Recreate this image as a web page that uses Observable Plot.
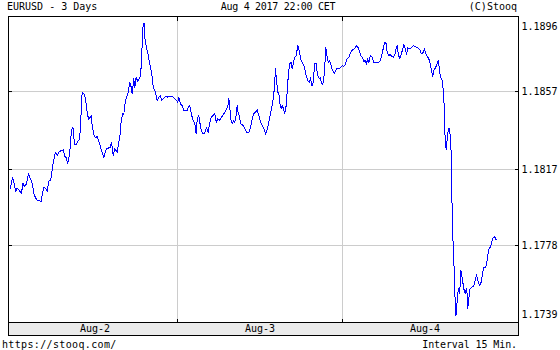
<!DOCTYPE html>
<html>
<head>
<meta charset="utf-8">
<script src="https://cdn.jsdelivr.net/npm/d3@7"></script>
<script src="https://cdn.jsdelivr.net/npm/@observablehq/plot@0.6"></script>
<style>
  html, body { margin: 0; padding: 0; background: #fff; }
  #wrap { position: relative; width: 560px; height: 350px; overflow: hidden; font-family: "DejaVu Sans Mono", monospace; font-size: 10px; color: #000; }
  .lbl { position: absolute; white-space: pre; line-height: 12px; }
  #band { position: absolute; left: 8px; top: 322px; width: 511px; height: 14px; box-sizing: border-box; border: 1px solid #000; background: #ebebeb; }
  #plot { position: absolute; left: 0; top: 15px; }
</style>
</head>
<body>
<div id="wrap">
  <div id="band"></div>
  <div id="plot"></div>
  <div class="lbl" style="left:7px;top:1px">EURUSD - 3 Days</div>
  <div class="lbl" style="left:0;width:556px;text-align:center;top:1px;letter-spacing:-0.3px">Aug 4 2017 22:00 CET</div>
  <div class="lbl" style="right:43px;top:1px">(C)Stooq</div>
  <div class="lbl" style="left:2px;top:339px;letter-spacing:0.35px">https://stooq.com/</div>
  <div class="lbl" style="right:43px;top:339px;letter-spacing:-0.1px">Interval 15 Min.</div>
</div>
<script>
// hours since Aug 2 00:00 CET (15-minute bars, EURUSD)
const hours = [
-0.29,-0.15,0.04,0.29,0.44,0.68,0.92,1.06,1.31,1.50,
1.75,2.04,2.33,2.52,2.76,2.95,3.10,3.35,3.59,4.17,
4.36,4.55,4.80,5.05,5.28,5.53,5.67,5.86,6.01,6.25,
6.50,6.73,7.08,7.37,7.61,7.81,8.04,8.19,8.39,8.54,
8.68,8.83,9.02,9.31,9.49,9.74,9.89,10.04,10.14,10.37,
10.62,10.76,10.95,11.10,11.24,11.45,11.59,11.83,12.07,12.32,
12.47,12.65,12.80,
13.28,13.67,14.25,14.40,14.65,14.88,15.23,15.46,15.71,15.81,
16.04,16.19,16.33,16.58,16.83,17.06,17.27,17.41,17.64,17.79,
17.99,18.23,18.52,18.62,18.76,18.87,19.01,19.16,19.24,19.45,
19.64,19.83,20.07,20.32,20.47,20.70,20.90,21.05,21.28,21.53,
21.67,22.01,22.36,22.59,22.88,23.23,23.56,23.85,24.04,24.19,
24.44,24.68,24.92,25.41,25.56,25.79,26.04,26.28,26.52,26.72,
26.87,27.10,27.24,27.45,27.68,27.93,28.22,28.47,28.65,28.90,
29.19,29.43,29.63,29.86,30.11,30.36,30.59,30.88,31.13,31.32,
31.46,31.61,31.71,31.96,32.19,32.33,32.54,32.68,32.83,33.02,
33.16,33.56,33.79,34.04,34.37,34.62,34.87,35.10,35.35,35.59,
35.83,36.07,
36.32,36.55,36.84,37.13,37.42,37.67,37.92,38.11,38.25,38.40,
38.59,38.74,38.88,39.08,39.23,39.37,39.61,39.81,39.96,40.10,
40.29,40.54,40.68,40.83,41.02,41.27,41.50,41.75,41.99,42.22,
42.47,42.72,42.95,43.20,43.35,43.49,43.68,43.83,43.97,44.17,
44.32,44.47,44.65,44.80,44.95,45.13,45.38,45.57,45.77,45.92,
46.11,46.36,46.55,46.84,47.13,47.46,47.71,47.96,48.19,48.44,
48.68,48.92,49.16,49.45,49.75,50.04,50.28,50.47,50.62,50.86,
51.10,51.35,51.49,51.64,51.83,52.07,52.32,52.55,52.80,53.13,
53.42,53.67,53.86,54.11,54.36,54.50,54.73,54.98,55.13,55.38,
55.61,55.85,56.00,56.10,56.33,
56.54,56.69,56.92,57.16,57.31,57.50,57.89,58.28,58.62,58.95,
59.24,59.49,59.74,59.93,60.07,60.32,60.55,60.70,60.90,61.13,
61.28,61.53,61.77,61.92,62.06,62.25,62.50,62.64,62.79,62.88,
63.03,63.13,63.27,63.49,63.61,63.75,63.85,64.00,64.15,64.29,
64.39,64.51,64.62,64.73,64.90,65.05,65.21,65.35,65.53,65.64,
65.85,65.99,66.14,66.22,66.40,66.51,66.76,67.05,67.24,67.49,
67.68,67.93,68.17,68.41,68.55,68.80,68.99,69.16,69.35,69.53,
69.72,69.92,70.11,70.36
];

const prices = [
1.18071,1.18105,1.18127,1.18093,1.18057,1.18074,1.18066,1.18059,1.18045,1.18100,
1.18083,1.18097,1.18151,1.18130,1.18113,1.18083,1.18048,1.18025,1.18011,1.18007,
1.18045,1.18079,1.18074,1.18057,1.18110,1.18113,1.18139,1.18190,1.18220,1.18259,
1.18242,1.18259,1.18267,1.18271,1.18237,1.18230,1.18202,1.18225,1.18281,1.18353,
1.18384,1.18379,1.18297,1.18297,1.18314,1.18322,1.18387,1.18507,1.18566,1.18561,
1.18533,1.18490,1.18447,1.18425,1.18435,1.18447,1.18396,1.18349,1.18333,1.18339,
1.18322,1.18305,1.18284,
1.18233,1.18276,1.18284,1.18310,1.18242,1.18276,1.18259,1.18310,1.18361,1.18421,
1.18456,1.18451,1.18502,1.18541,1.18566,1.18618,1.18592,1.18558,1.18635,1.18592,
1.18643,1.18621,1.18643,1.18652,1.18720,1.18823,1.18917,1.18917,1.18849,1.18802,
1.18775,1.18738,1.18695,1.18643,1.18592,1.18575,1.18550,1.18524,1.18541,1.18550,
1.18524,1.18536,1.18546,1.18541,1.18544,1.18546,1.18536,1.18524,1.18515,1.18541,
1.18507,1.18498,1.18473,1.18473,1.18490,1.18498,1.18451,1.18421,1.18404,1.18353,
1.18430,1.18447,1.18413,1.18370,1.18353,1.18353,1.18387,1.18361,1.18404,1.18438,
1.18447,1.18456,1.18413,1.18430,1.18421,1.18438,1.18447,1.18464,1.18481,1.18490,
1.18536,1.18498,1.18430,1.18404,1.18421,1.18413,1.18447,1.18498,1.18456,1.18447,
1.18404,1.18396,1.18379,1.18361,1.18361,1.18387,1.18430,1.18456,1.18464,1.18476,
1.18447,1.18413,
1.18396,1.18379,1.18351,1.18387,1.18438,1.18481,1.18533,1.18592,1.18687,1.18626,
1.18566,1.18560,1.18511,1.18481,1.18498,1.18486,1.18459,1.18498,1.18575,1.18643,
1.18712,1.18720,1.18687,1.18712,1.18743,1.18755,1.18806,1.18772,1.18729,1.18712,
1.18695,1.18652,1.18626,1.18618,1.18643,1.18601,1.18601,1.18661,1.18712,1.18712,
1.18669,1.18643,1.18635,1.18643,1.18610,1.18606,1.18669,1.18797,1.18746,1.18720,
1.18729,1.18703,1.18678,1.18664,1.18687,1.18687,1.18692,1.18703,1.18698,1.18712,
1.18738,1.18746,1.18767,1.18784,1.18789,1.18806,1.18794,1.18780,1.18755,1.18746,
1.18725,1.18729,1.18709,1.18738,1.18720,1.18755,1.18746,1.18720,1.18717,1.18717,
1.18725,1.18746,1.18780,1.18823,1.18815,1.18772,1.18755,1.18760,1.18750,1.18746,
1.18760,1.18797,1.18806,1.18763,1.18738,
1.18760,1.18780,1.18811,1.18789,1.18760,1.18794,1.18789,1.18806,1.18801,1.18794,
1.18784,1.18763,1.18772,1.18789,1.18767,1.18750,1.18738,1.18720,1.18687,1.18647,
1.18678,1.18692,1.18712,1.18729,1.18695,1.18643,1.18626,1.18580,1.18498,1.18361,
1.18284,1.18273,1.18353,1.18381,1.18353,1.18339,1.18144,1.17870,1.17737,1.17609,
1.17485,1.17421,1.17464,1.17524,1.17562,1.17532,1.17652,1.17626,1.17585,1.17559,
1.17531,1.17558,1.17529,1.17455,1.17515,1.17554,1.17565,1.17570,1.17590,1.17631,
1.17601,1.17575,1.17592,1.17643,1.17665,1.17665,1.17690,1.17737,1.17767,1.17771,
1.17801,1.17820,1.17826,1.17809
];

// axis labels and ticks
const dayLabels = ["Aug-2", "Aug-3", "Aug-4"];
const dayCenters = [12, 36, 60];        // noon of each day (hours)
const dayBoundaries = [24, 48];         // midnights (hours)
const yTickValues = [1.1739, 1.1778, 1.1817, 1.1857, 1.1896];
const yGridValues = yTickValues.slice(1, 4);
const xDomain = [-0.58, 73.6];
const yDomain = [1.17385, 1.18955];

const series = hours.map((t, i) => ({t, p: prices[i]}));

const chart = Plot.plot({
  width: 560,
  height: 321,
  marginTop: 1,
  marginBottom: 14,
  marginLeft: 8,
  marginRight: 42,
  style: {background: "none", fontFamily: "'DejaVu Sans Mono', monospace", fontSize: "10px", color: "#000", overflow: "visible"},
  x: {type: "linear", domain: xDomain, axis: null, label: null},
  y: {type: "linear", domain: yDomain, axis: null, label: null},
  marks: [
    Plot.gridX(dayBoundaries, {stroke: "#cccccc", strokeOpacity: 1}),
    Plot.gridY(yGridValues, {stroke: "#cccccc", strokeOpacity: 1}),
    Plot.line(series, {x: "t", y: "p", stroke: "#0000ff", strokeWidth: 1, shapeRendering: "crispEdges"}),
    Plot.frame({stroke: "#000"}),
    // small inward ticks
    Plot.axisY(yGridValues, {anchor: "left", tickSize: 4, dx: 4, fill: "none", label: null}),
    Plot.axisY(yGridValues, {anchor: "right", tickSize: 4, dx: -4, fill: "none", label: null}),
    Plot.axisX(dayBoundaries, {anchor: "top", tickSize: 4, dy: 4, fill: "none", label: null}),
    Plot.axisX(dayBoundaries, {anchor: "bottom", tickSize: 3, dy: -3, fill: "none", label: null}),
    // right-hand value labels
    Plot.axisY(yGridValues, {anchor: "right", tickSize: 0, tickPadding: 3, tickFormat: d => d.toFixed(4), label: null}),
    Plot.text([yTickValues[4]], {frameAnchor: "top-right", text: d => d.toFixed(4), textAnchor: "start", dx: 3, dy: 6}),
    Plot.text([yTickValues[0]], {frameAnchor: "bottom-right", text: d => d.toFixed(4), textAnchor: "start", dx: 3, dy: -5}),
    // day labels inside the grey band
    Plot.axisX(dayCenters, {anchor: "bottom", tickSize: 0, tickPadding: 2, tickFormat: d => dayLabels[dayCenters.indexOf(d)], label: null})
  ]
});
document.getElementById("plot").append(chart);
</script>
</body>
</html>
